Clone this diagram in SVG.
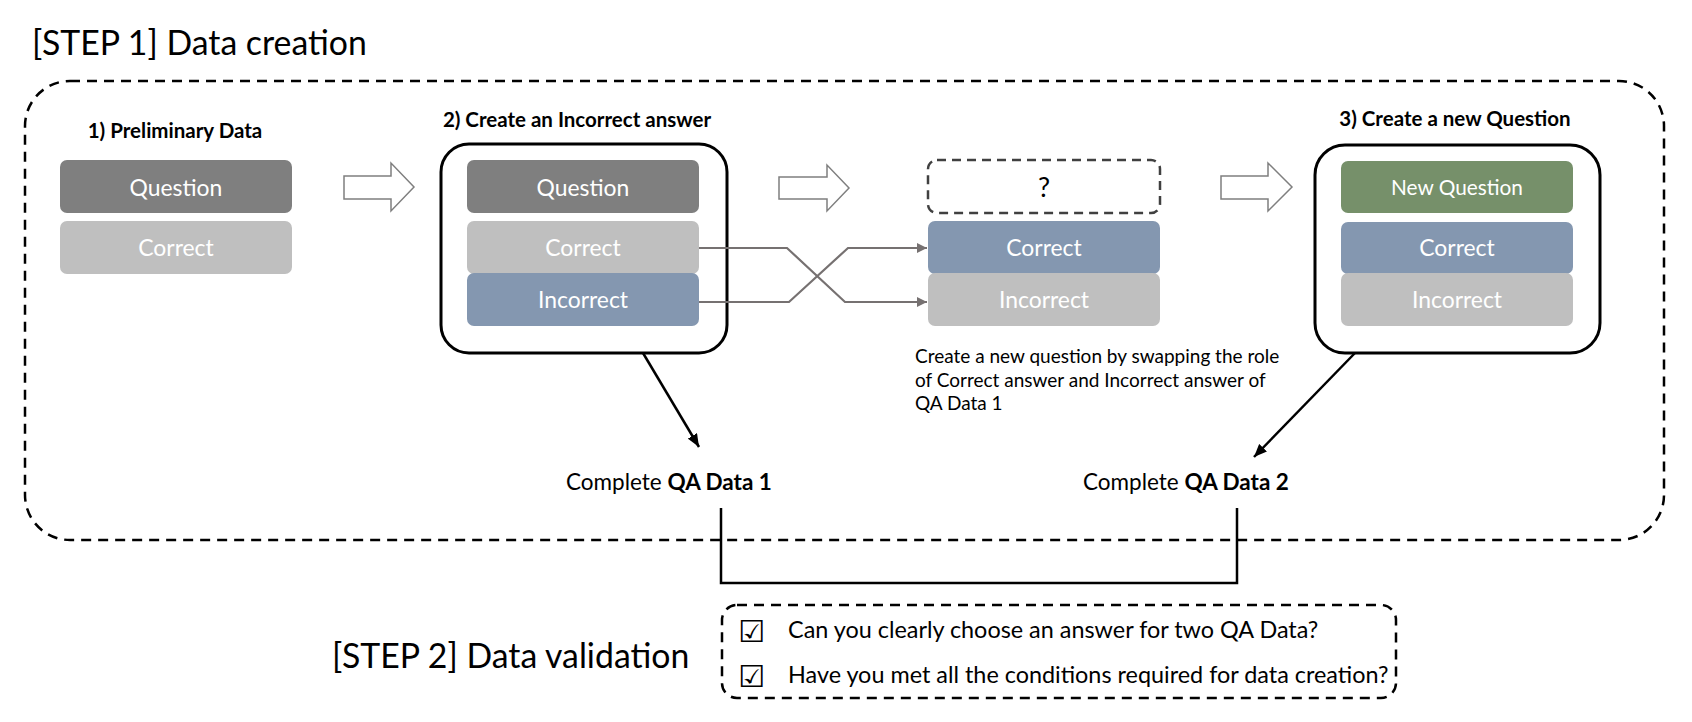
<svg xmlns="http://www.w3.org/2000/svg" width="1692" height="722" viewBox="0 0 1692 722">
  <style>
    text { font-family: Lato, "Liberation Sans", sans-serif; fill: #000; }
    .title { font-size: 33.8px; }
    .hdr { font-size: 20.5px; font-weight: bold; }
    .lbl { font-size: 22.9px; fill: #fff; text-anchor: middle; }
    .lbl2 { font-size: 20.8px; fill: #fff; text-anchor: middle; }
    .desc { font-size: 19px; }
    .body { font-size: 22.5px; }
    .check { font-size: 23.4px; }
    .chk { font-family: "DejaVu Sans", sans-serif; font-size: 30px; font-weight: bold; }
    .q { fill: #7f7f7f; }
    .c { fill: #bfbfbf; }
    .b { fill: #8497b0; }
    .g { fill: #76906a; }
    .frame { fill: none; stroke: #000; stroke-width: 3; }
    .dash { fill: none; stroke: #000; stroke-width: 2.5; stroke-dasharray: 10 7; }
    .blk { fill: #fff; stroke: #7f7f7f; stroke-width: 1.5; }
    .swap { fill: none; stroke: #767171; stroke-width: 2.2; marker-end: url(#ga); }
    .black { fill: none; stroke: #000; stroke-width: 2.5; }
  </style>
  <defs>
    <marker id="ga" viewBox="0 0 10 10" refX="10" refY="5" markerWidth="10" markerHeight="10" markerUnits="userSpaceOnUse" orient="auto">
      <path d="M0,0 L10,5 L0,10 z" fill="#767171"/>
    </marker>
    <marker id="ba" viewBox="0 0 12 10" refX="12" refY="5" markerWidth="13" markerHeight="11" markerUnits="userSpaceOnUse" orient="auto">
      <path d="M0,0 L12,5 L0,10 z" fill="#000"/>
    </marker>
  </defs>

  <rect width="1692" height="722" fill="#fff"/>

  <text class="title" x="32" y="55">[STEP 1] Data creation</text>
  <rect id="step1-frame" class="dash" x="25" y="81" width="1639" height="459" rx="45"/>

  <g id="node-preliminary">
    <text class="hdr" x="175" y="138" text-anchor="middle">1) Preliminary Data</text>
    <rect class="q" x="60" y="160" width="232" height="53" rx="7"/>
    <text class="lbl" x="176" y="196">Question</text>
    <rect class="c" x="60" y="221" width="232" height="53" rx="7"/>
    <text class="lbl" x="176" y="256">Correct</text>
  </g>

  <g id="node-incorrect">
    <text class="hdr" x="577" y="127" text-anchor="middle">2) Create an Incorrect answer</text>
    <rect class="frame" x="441" y="144" width="286" height="209" rx="28"/>
    <rect class="q" x="467" y="160" width="232" height="53" rx="7"/>
    <text class="lbl" x="583" y="196">Question</text>
    <rect class="c" x="467" y="221" width="232" height="53" rx="7"/>
    <text class="lbl" x="583" y="256">Correct</text>
    <rect class="b" x="467" y="273" width="232" height="53" rx="7"/>
    <text class="lbl" x="583" y="308">Incorrect</text>
  </g>

  <g id="node-swapped">
    <rect x="928" y="160" width="232" height="53" rx="9" fill="none" stroke="#404040" stroke-width="2.5" stroke-dasharray="9 6"/>
    <text x="1044" y="197" font-size="27" text-anchor="middle">?</text>
    <rect class="b" x="928" y="221" width="232" height="53" rx="7"/>
    <text class="lbl" x="1044" y="256">Correct</text>
    <rect class="c" x="928" y="273" width="232" height="53" rx="7"/>
    <text class="lbl" x="1044" y="308">Incorrect</text>
    <text class="desc" x="915" y="363">Create a new question by swapping the role</text>
    <text class="desc" x="915" y="387">of Correct answer and Incorrect answer of</text>
    <text class="desc" x="915" y="410">QA Data 1</text>
  </g>

  <g id="node-newquestion">
    <text class="hdr" x="1455" y="126" text-anchor="middle">3) Create a new Question</text>
    <rect class="frame" x="1315" y="145" width="285" height="208" rx="30"/>
    <rect class="g" x="1341" y="161" width="232" height="52" rx="7"/>
    <text class="lbl2" x="1457" y="195">New Question</text>
    <rect class="b" x="1341" y="222" width="232" height="52" rx="7"/>
    <text class="lbl" x="1457" y="256">Correct</text>
    <rect class="c" x="1341" y="273" width="232" height="53" rx="7"/>
    <text class="lbl" x="1457" y="308">Incorrect</text>
  </g>

  <g id="node-qa1">
    <text class="body" x="566" y="490">Complete <tspan font-weight="bold">QA Data 1</tspan></text>
  </g>
  <g id="node-qa2">
    <text class="body" x="1083" y="490">Complete <tspan font-weight="bold">QA Data 2</tspan></text>
  </g>

  <g id="connectors">
    <polygon class="blk" points="344,176 391,176 391,163 414,187 391,211 391,199 344,199"/>
    <polygon class="blk" points="779,177 827,177 827,165 849,188 827,211 827,199 779,199"/>
    <polygon class="blk" points="1221,176 1268,176 1268,163 1292,187 1268,211 1268,199 1221,199"/>
    <path class="swap" d="M699,248 H787 L845,302 H927"/>
    <path class="swap" d="M699,302 H789 L848,248 H927"/>
    <path class="black" d="M643,353 L699,447" marker-end="url(#ba)"/>
    <path class="black" d="M1355,353 L1254,457" marker-end="url(#ba)"/>
    <path class="black" d="M721,508 V583 H1237 V508"/>
  </g>

  <text class="title" x="332" y="668">[STEP 2] Data validation</text>
  <g id="node-validation">
    <rect class="dash" x="722" y="605" width="674" height="93" rx="15"/>
    <text class="chk" x="738" y="642">☑</text>
    <text class="body check" x="788" y="638">Can you clearly choose an answer for two QA Data?</text>
    <text class="chk" x="738" y="687">☑</text>
    <text class="body check" x="788" y="683">Have you met all the conditions required for data creation?</text>
  </g>
</svg>
